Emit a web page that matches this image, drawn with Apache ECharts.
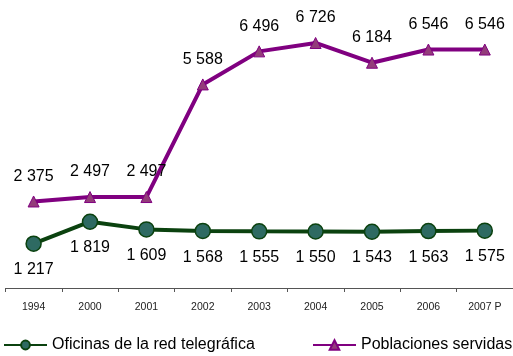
<!DOCTYPE html>
<html><head><meta charset="utf-8">
<script src="https://cdn.jsdelivr.net/npm/echarts@6/dist/echarts.min.js"></script>
<style>html,body{margin:0;padding:0;background:#fff}#c{width:513px;height:356px}</style>
</head><body><div id="c"></div>
<script>
const categories = ['1994','2000','2001','2002','2003','2004','2005','2006','2007 P'];
const oficinas = [1217,1819,1609,1568,1555,1550,1543,1563,1575];
const poblaciones = [2375,2497,2497,5588,6496,6726,6184,6546,6546];
const seriesNames = ['Oficinas de la red telegráfica','Poblaciones servidas'];
const fmt = v => String(v).replace(/\B(?=(\d{3})+(?!\d))/g, ' ');
const chart = echarts.init(document.getElementById('c'));
const font = 'Liberation Sans, Arial, sans-serif';
chart.setOption({
  animation:false,
  textStyle:{fontFamily:font},
  grid:{left:5.4,right:-7.6,top:33,bottom:68},
  xAxis:{type:'category',data:categories,boundaryGap:true,
    axisLine:{lineStyle:{color:'#555',width:1}},
    axisTick:{show:true,length:4,lineStyle:{color:'#555'}},
    axisLabel:{color:'#222',fontSize:10.5,margin:14,fontFamily:font}},
  yAxis:{type:'value',min:0,max:7000,show:false,splitLine:{show:false}},
  legend:[
    {data:[seriesNames[0]],left:3,top:337,padding:0,itemWidth:43,itemHeight:11,itemGap:8,
     textStyle:{fontSize:16,color:'#000',fontFamily:font}},
    {data:[seriesNames[1]],left:312,top:337,padding:0,itemWidth:43,itemHeight:12,
     textStyle:{fontSize:16,color:'#000',fontFamily:font}}
  ],
  series:[
    {name:seriesNames[0],type:'line',data:oficinas,symbol:'circle',symbolSize:15,
     lineStyle:{color:'#0b420f',width:4},
     itemStyle:{color:'#2e6a62',borderColor:'#0b420f',borderWidth:1.5},
     label:{show:true,position:'bottom',distance:10,fontSize:16,color:'#000',fontFamily:font,
       formatter:p=>fmt(p.value)}},
    {name:seriesNames[1],type:'line',data:poblaciones,symbol:'triangle',symbolSize:11,
     lineStyle:{color:'#800080',width:4},
     itemStyle:{color:'#933c7a',borderColor:'#800080',borderWidth:1},
     label:{show:true,position:'top',distance:11,fontSize:16,color:'#000',fontFamily:font,
       formatter:p=>fmt(p.value)}}
  ]
});
</script></body></html>
